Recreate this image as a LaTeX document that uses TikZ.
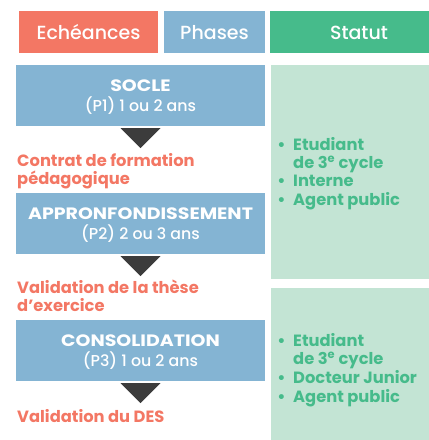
\documentclass[tikz,border=0pt]{standalone}
\usepackage{fontspec}
\setmainfont{Poppins}[UprightFont=* Medium, BoldFont=* Bold]
\newfontfamily\capsfont{Poppins}[UprightFont=* Bold, FakeStretch=1.15]
\definecolor{cred}{HTML}{F37764}
\definecolor{cblue}{HTML}{84B4D3}
\definecolor{cgreen}{HTML}{46BB8B}
\definecolor{cpale}{HTML}{C3E4D4}
\definecolor{cdark}{HTML}{3C3C3C}
\begin{document}
\begin{tikzpicture}[x=1pt,y=-1pt,
  hdr/.style={rectangle, inner sep=0pt, minimum height=42pt},
  hdrtext/.style={text=white, inner sep=0pt, anchor=base, font=\fontsize{19}{22}\selectfont},
  phase/.style={rectangle, fill=cblue, minimum width=249pt, minimum height=61pt, inner sep=0pt},
  ptitle/.style={text=white, inner sep=0pt, anchor=base, font=\capsfont\fontsize{16.5}{20}\selectfont},
  psub/.style={text=white, inner sep=0pt, anchor=base, font=\fontsize{15.8}{20}\selectfont},
  statbox/.style={rectangle, fill=cpale, inner sep=0pt},
  tri/.style={fill=cdark},
  ech/.style={text=cred, font=\bfseries\fontsize{16.3}{18}\selectfont, inner sep=0pt, anchor=base west},
  stat/.style={text=cgreen, font=\bfseries\fontsize{16.3}{18}\selectfont, inner sep=0pt, anchor=base west},
  bul/.style={text=cgreen, font=\bfseries\fontsize{16.3}{18}\selectfont, inner sep=0pt, anchor=base}
]
\useasboundingbox (0,0) rectangle (429,440);
% headers
\node[hdr, fill=cred, minimum width=139pt] (hE) at (88.5,32) {};
\node[hdr, fill=cblue, minimum width=101pt] (hP) at (214.5,32) {};
\node[hdr, fill=cgreen, minimum width=178pt] (hS) at (359,32) {};
\node[hdrtext] (hEt) at (88.5,39.3) {Echéances};
\node[hdrtext] (hPt) at (214.5,39.3) {Phases};
\node[hdrtext] (hSt) at (359,39.3) {Statut};
% status boxes
\node[statbox, minimum width=178pt, minimum height=214pt] (g1) at (360,172) {};
\node[statbox, minimum width=178pt, minimum height=152pt] (g2) at (360,364) {};
% phases
\node[phase] (p1) at (140.5,95.5) {};
\node[phase] (p2) at (140.5,223.5) {};
\node[phase] (p3) at (140.5,350.5) {};
\node[ptitle] (p1t) at (140.5,91.5) {SOCLE};
\node[psub] (p1s) at (140.5,111.8) {(P1) 1 ou 2 ans};
\node[ptitle] (p2t) at (140.5,219.3) {APPRONFONDISSEMENT};
\node[psub] (p2s) at (140.5,239.5) {(P2) 2 ou 3 ans};
\node[ptitle] (p3t) at (140.5,346.5) {CONSOLIDATION};
\node[psub] (p3s) at (140.5,366.7) {(P3) 1 ou 2 ans};
% arrows
\fill[tri] ([yshift=-2pt]p1.south) +(-20,0) -- +(20,0) -- +(0,20) -- cycle;
\fill[tri] ([yshift=-2pt]p2.south) +(-20,0) -- +(20,0) -- +(0,20) -- cycle;
\fill[tri] ([yshift=-2pt]p3.south) +(-20,0) -- +(20,0) -- +(0,20) -- cycle;
% deadlines
\node[ech] (e1a) at (17,166.3) {Contrat de formation};
\node[ech] (e1b) at (17,184.3) {pédagogique};
\node[ech] (e2a) at (17,293.5) {Validation de la thèse};
\node[ech] (e2b) at (17,311.7) {d’exercice};
\node[ech] (e3) at (17,422.7) {Validation du DES};
% statut list 1
\node[bul] (b11) at (281.5,150.7) {•};
\node[stat] (s11) at (293,150.7) {Etudiant};
\node[stat] (s12) at (293,168.5) {de 3\textsuperscript{e} cycle};
\node[bul] (b13) at (281.5,186.7) {•};
\node[stat] (s13) at (293,186.7) {Interne};
\node[bul] (b14) at (281.5,205) {•};
\node[stat] (s14) at (293,205) {Agent public};
% statut list 2
\node[bul] (b21) at (281.5,346) {•};
\node[stat] (s21) at (293,346) {Etudiant};
\node[stat] (s22) at (293,364.5) {de 3\textsuperscript{e} cycle};
\node[bul] (b23) at (281.5,383.2) {•};
\node[stat] (s23) at (293,383.2) {Docteur Junior};
\node[bul] (b24) at (281.5,402) {•};
\node[stat] (s24) at (293,402) {Agent public};
\end{tikzpicture}
\end{document}
